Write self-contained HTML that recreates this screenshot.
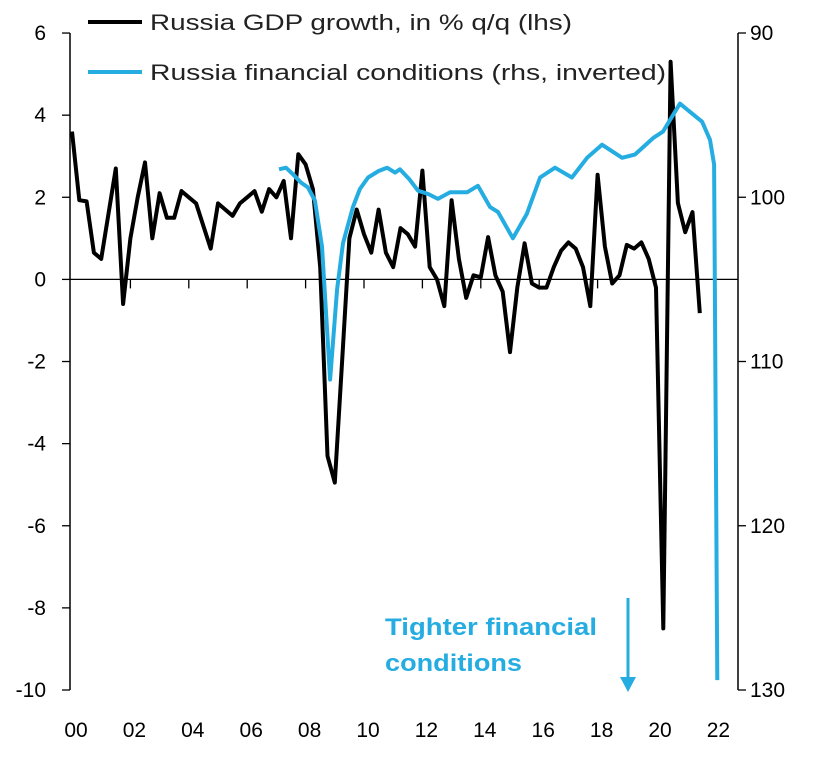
<!DOCTYPE html>
<html><head><meta charset="utf-8"><style>
body{margin:0;background:#fff;}
svg{display:block;font-family:"Liberation Sans",sans-serif;}
</style></head><body>
<svg id="chart" width="821" height="768"></svg>
<script>
const gdpStart = 2000;
const gdpValues = [3.6,1.93,1.9,0.65,0.5,1.6,2.7,-0.6,1.0,2.0,2.85,1.0,2.1,1.5,1.5,2.15,2.0,1.85,1.3,0.75,1.85,1.7,1.55,1.85,2.0,2.15,1.65,2.2,2.0,2.4,1.0,3.05,2.8,2.2,0.3,-4.3,-4.95,-2.0,1.0,1.7,1.1,0.65,1.7,0.65,0.3,1.25,1.1,0.8,2.65,0.3,0.0,-0.65,1.93,0.5,-0.45,0.1,0.05,1.03,0.1,-0.3,-1.77,-0.2,0.88,-0.1,-0.2,-0.2,0.3,0.7,0.9,0.75,0.3,-0.65,2.55,0.8,-0.1,0.1,0.84,0.75,0.9,0.5,-0.2,-8.5,5.3,1.86,1.15,1.64,-0.82];
const fciDates = [2007.09,2007.33,2007.57,2007.84,2008.08,2008.32,2008.56,2008.84,2009.08,2009.28,2009.62,2009.86,2010.14,2010.5,2010.79,2011.06,2011.23,2011.55,2011.85,2012.2,2012.53,2012.95,2013.53,2013.9,2014.32,2014.59,2015.1,2015.58,2016.03,2016.54,2017.12,2017.64,2018.15,2018.84,2019.28,2019.9,2020.24,2020.82,2021.16,2021.58,2021.85,2021.99,2022.1];
const fciValues = [98.3,98.2,98.6,99.1,99.4,100.2,103,111.1,105.6,102.8,100.6,99.5,98.8,98.4,98.2,98.5,98.3,98.9,99.6,99.8,100.1,99.7,99.7,99.3,100.6,100.9,102.5,101,98.8,98.2,98.8,97.6,96.8,97.6,97.4,96.4,96,94.3,94.8,95.4,96.5,98,129.4];
const leftTicks = [6,4,2,0,-2,-4,-6,-8,-10];
const rightTicks = [90,100,110,120,130];
const xLabels = ["00","02","04","06","08","10","12","14","16","18","20","22"];

const NS="http://www.w3.org/2000/svg";
const svg=document.getElementById('chart');
const X0=72, PX=29.2;
const BLUE='#25ade2';
const xs=t=>X0+(t-2000)*PX;
const yL=v=>279.4-41.06*v;
const yR=v=>33+(v-90)*16.425;
function mk(tag,attrs,parent){const e=document.createElementNS(NS,tag);for(const k in attrs)e.setAttribute(k,attrs[k]);(parent||svg).appendChild(e);return e;}

let e=mk('line',{x1:70,y1:33,x2:70,y2:690,stroke:'#000','stroke-width':1.5});


e=mk('line',{x1:738,y1:33,x2:738,y2:690,stroke:'#000','stroke-width':1.5});


e=mk('line',{x1:70,y1:yL(0),x2:738,y2:yL(0),stroke:'#000','stroke-width':1.3});


leftTicks.forEach(v=>{
  mk('line',{x1:62,y1:yL(v),x2:70,y2:yL(v),stroke:'#000','stroke-width':1.3});
  const t=mk('text',{x:46,y:yL(v)+7,'text-anchor':'end','font-size':21,fill:'#000'});
  t.textContent=v;
  
  
});
rightTicks.forEach(v=>{
  mk('line',{x1:738,y1:yR(v),x2:746,y2:yR(v),stroke:'#000','stroke-width':1.3});
  const t=mk('text',{x:750,y:yR(v)+7,'font-size':21,fill:'#000'});
  t.textContent=v;
  
  
});
xLabels.forEach((l,i)=>{
  const yr=2000+i*2;
  if(i>0) mk('line',{x1:xs(yr),y1:yL(0),x2:xs(yr),y2:yL(0)+9,stroke:'#000','stroke-width':1.3});
  const t=mk('text',{x:xs(yr)+4,y:737,'text-anchor':'middle','font-size':21,fill:'#000'});
  t.textContent=l;
  
  
});

let d=gdpValues.map((v,i)=>(i?'L':'M')+xs(gdpStart+i*0.25).toFixed(1)+','+yL(v).toFixed(1)).join(' ');
e=mk('path',{d:d,fill:'none',stroke:'#000','stroke-width':4,'stroke-linejoin':'round'});


d=fciValues.map((v,i)=>(i?'L':'M')+xs(fciDates[i]).toFixed(1)+','+yR(v).toFixed(1)).join(' ');
e=mk('path',{d:d,fill:'none',stroke:BLUE,'stroke-width':4,'stroke-linejoin':'round'});



e=mk('line',{x1:88,y1:22,x2:142,y2:22,stroke:'#000','stroke-width':4});


e=mk('text',{x:150,y:30,'font-size':22,fill:'#222',textLength:422,lengthAdjust:'spacingAndGlyphs'});
e.textContent='Russia GDP growth, in % q/q (lhs)';


e=mk('line',{x1:88,y1:72,x2:142,y2:72,stroke:BLUE,'stroke-width':4});


e=mk('text',{x:150,y:80,'font-size':22,fill:'#222',textLength:516,lengthAdjust:'spacingAndGlyphs'});
e.textContent='Russia financial conditions (rhs, inverted)';



e=mk('text',{x:385,y:635,'font-size':24,'font-weight':'bold',fill:BLUE,textLength:212,lengthAdjust:'spacingAndGlyphs'});
e.textContent='Tighter financial';


e=mk('text',{x:385,y:671,'font-size':24,'font-weight':'bold',fill:BLUE,textLength:137,lengthAdjust:'spacingAndGlyphs'});
e.textContent='conditions';


e=mk('line',{x1:628,y1:598,x2:628,y2:680,stroke:BLUE,'stroke-width':3});


e=mk('path',{d:'M620,677 L636,677 L628,692 Z',fill:BLUE});


</script>
</body></html>
